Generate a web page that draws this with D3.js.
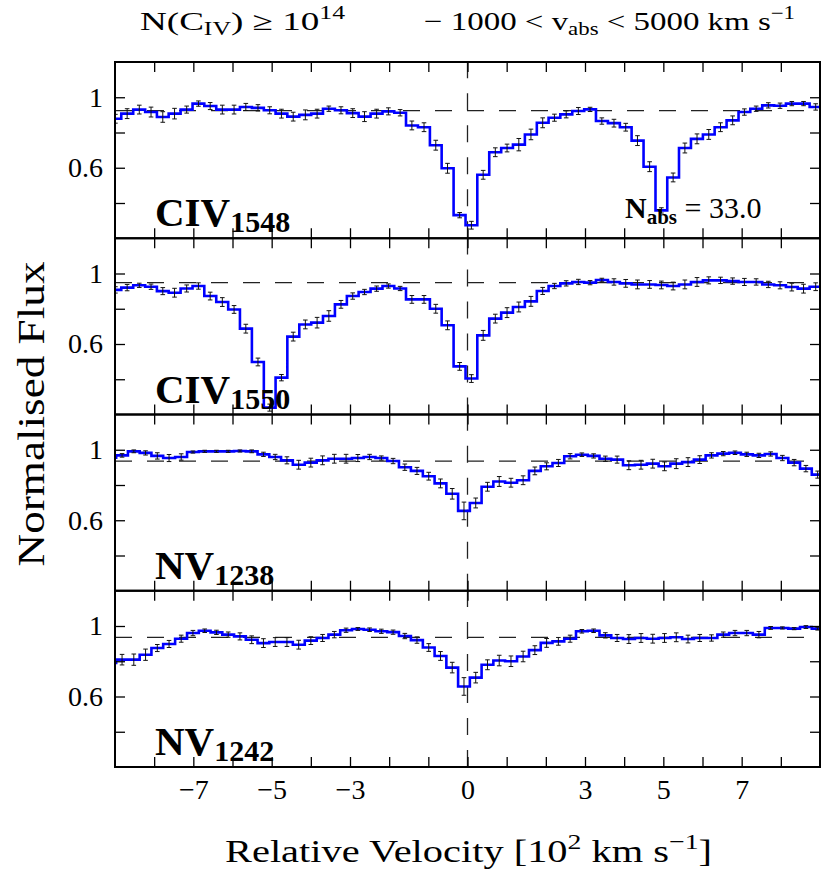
<!DOCTYPE html>
<html>
<head>
<meta charset="utf-8">
<script src="https://cdn.jsdelivr.net/npm/d3@7"></script>
<style>
  body { margin: 0; background: #fff; }
  text { font-family: "Liberation Serif", "DejaVu Serif", serif; fill: #000; }
</style>
</head>
<body>
<div id="chart"></div>
<script>
// bin centres, 10^2 km/s
var velCIV = [-8.99,-8.69,-8.38,-8.08,-7.78,-7.48,-7.17,-6.87,-6.57,-6.26,
  -5.96,-5.66,-5.35,-5.05,-4.75,-4.45,-4.14,-3.84,-3.54,-3.23,
  -2.93,-2.63,-2.32,-2.02,-1.72,-1.42,-1.11,-0.81,-0.51,-0.20,
  0.10,0.40,0.71,1.01,1.31,1.62,1.92,2.22,2.52,2.83,
  3.13,3.43,3.74,4.04,4.34,4.65,4.95,5.25,5.55,5.86,
  6.16,6.46,6.77,7.07,7.37,7.68,7.98,8.28,8.58,8.89];
var velNV = [-9.12,-8.82,-8.52,-8.22,-7.92,-7.62,-7.31,-7.01,-6.71,-6.41,
  -6.11,-5.81,-5.51,-5.21,-4.91,-4.61,-4.31,-4.00,-3.70,-3.40,
  -3.10,-2.80,-2.50,-2.20,-1.90,-1.60,-1.29,-0.99,-0.69,-0.39,
  -0.09,
  0.21,0.51,0.81,1.11,1.42,1.72,2.02,2.32,2.62,2.92,
  3.22,3.52,3.82,4.12,4.43,4.73,5.03,5.33,5.63,5.93,
  6.23,6.53,6.83,7.13,7.44,7.74,8.04,8.34,8.64,8.94];

var fluxCIV1548 = [0.878,0.907,0.930,0.916,0.888, 0.907,0.930,0.964,0.950,0.930,
  0.930,0.945,0.940,0.926,0.907, 0.890,0.900,0.907,0.935,0.926,
  0.910,0.890,0.907,0.920,0.912, 0.840,0.830,0.728,0.597,0.331,
  0.274,0.560,0.688,0.712,0.731, 0.789,0.855,0.884,0.903,0.922,
  0.931,0.865,0.853,0.830,0.754, 0.606,0.358,0.545,0.712,0.764,
  0.789,0.830,0.869,0.916,0.935, 0.954,0.952,0.964,0.964,0.945];
var errCIV1548 = [0.025,0.028,0.025,0.028,0.030, 0.030,0.020,0.015,0.020,0.025,
  0.025,0.020,0.018,0.020,0.025, 0.025,0.028,0.025,0.015,0.020,
  0.025,0.028,0.025,0.020,0.018, 0.025,0.025,0.028,0.028,0.015,
  0.022,0.025,0.025,0.022,0.035, 0.030,0.028,0.020,0.020,0.020,
  0.012,0.018,0.022,0.022,0.028, 0.028,0.015,0.025,0.028,0.028,
  0.028,0.025,0.025,0.018,0.015, 0.015,0.015,0.012,0.012,0.018];

var fluxCIV1550 = [0.907,0.920,0.933,0.925,0.900, 0.891,0.915,0.929,0.872,0.838,
  0.796,0.687,0.498,0.239,0.409, 0.642,0.711,0.721,0.759,0.825,
  0.872,0.895,0.914,0.929,0.915, 0.853,0.853,0.800,0.706,0.473,
  0.404,0.649,0.744,0.778,0.810, 0.842,0.901,0.929,0.944,0.952,
  0.948,0.963,0.952,0.944,0.938, 0.938,0.935,0.929,0.938,0.952,
  0.961,0.961,0.957,0.952,0.952, 0.938,0.933,0.923,0.914,0.925];
var errCIV1550 = [0.018,0.018,0.012,0.015,0.020, 0.025,0.020,0.018,0.022,0.025,
  0.022,0.025,0.022,0.020,0.018, 0.025,0.025,0.030,0.030,0.022,
  0.018,0.015,0.015,0.012,0.012, 0.022,0.022,0.025,0.025,0.022,
  0.022,0.028,0.025,0.028,0.028, 0.028,0.020,0.015,0.015,0.015,
  0.012,0.010,0.018,0.022,0.025, 0.022,0.022,0.022,0.025,0.025,
  0.020,0.018,0.018,0.020,0.018, 0.018,0.020,0.022,0.025,0.022];

var fluxNV1238 = [0.955,0.968,0.991,0.982,0.965, 0.953,0.959,0.987,0.991,0.991,
  0.991,0.993,0.991,0.974,0.959, 0.940,0.915,0.927,0.940,0.949,
  0.949,0.953,0.959,0.953,0.936, 0.901,0.880,0.850,0.809,0.750,
  0.653,
  0.698,0.790,0.820,0.813,0.827, 0.880,0.906,0.925,0.963,0.972,
  0.965,0.949,0.944,0.912,0.915, 0.921,0.906,0.921,0.930,0.944,
  0.968,0.978,0.983,0.974,0.968, 0.976,0.953,0.927,0.893,0.859];
var errNV1238 = [0.010,0.010,0.008,0.012,0.018, 0.020,0.018,0.006,0.006,0.006,
  0.006,0.006,0.008,0.012,0.015, 0.020,0.025,0.025,0.025,0.025,
  0.025,0.020,0.015,0.012,0.015, 0.018,0.020,0.022,0.025,0.030,
  0.050,
  0.028,0.025,0.028,0.025,0.025, 0.022,0.020,0.020,0.015,0.010,
  0.012,0.015,0.020,0.025,0.025, 0.025,0.025,0.028,0.025,0.022,
  0.015,0.012,0.010,0.012,0.012, 0.012,0.015,0.018,0.018,0.020];

var fluxNV1242 = [0.790,0.809,0.809,0.837,0.875, 0.898,0.928,0.960,0.973,0.964,
  0.951,0.941,0.922,0.903,0.909, 0.909,0.894,0.917,0.932,0.951,
  0.976,0.983,0.979,0.970,0.965, 0.943,0.920,0.878,0.830,0.764,
  0.657,
  0.707,0.780,0.804,0.800,0.827, 0.863,0.904,0.913,0.928,0.970,
  0.973,0.947,0.932,0.926,0.932, 0.928,0.932,0.936,0.926,0.932,
  0.932,0.951,0.960,0.960,0.951, 0.989,0.989,0.985,0.994,0.985];
var errNV1242 = [0.025,0.030,0.032,0.032,0.020, 0.020,0.020,0.015,0.010,0.012,
  0.015,0.020,0.022,0.025,0.025, 0.025,0.025,0.022,0.020,0.018,
  0.012,0.008,0.010,0.012,0.012, 0.015,0.018,0.022,0.025,0.030,
  0.050,
  0.030,0.028,0.030,0.030,0.030, 0.025,0.025,0.022,0.020,0.010,
  0.010,0.015,0.020,0.025,0.025, 0.025,0.025,0.025,0.022,0.020,
  0.018,0.015,0.015,0.015,0.018, 0.008,0.006,0.006,0.008,0.008];

var continuum = [0.924, 0.948, 0.936, 0.936];
var ionNames = ["CIV", "CIV", "NV", "NV"];
var lineNames = ["1548", "1550", "1238", "1242"];
var nAbs = "33.0";

var xTicks = [-8,-7,-6,-5,-4,-3,-2,-1,0,1,2,3,4,5,6,7,8];
var xTickLabels = [-7,-5,-3,0,3,5,7];
var yTicks = [0.4, 0.6, 0.8, 1.0];
var yTickLabels = [0.6, 1.0];

var panels = [
  {vel: velCIV, flux: fluxCIV1548, err: errCIV1548},
  {vel: velCIV, flux: fluxCIV1550, err: errCIV1550},
  {vel: velNV, flux: fluxNV1238, err: errNV1238},
  {vel: velNV, flux: fluxNV1242, err: errNV1242}
];

var width = 831, height = 883;
var left = 115, top0 = 62, plotW = 705, panelH = 176.25;

var svg = d3.select("#chart").append("svg")
  .attr("width", width)
  .attr("height", height);

var x = d3.scaleLinear().domain([-9, 9]).range([left, left + plotW]);

panels.forEach(function(p, i){
  var top = top0 + i * panelH;
  var y = d3.scaleLinear().domain([0.2, 1.2]).range([top + panelH, top]);
  var g = svg.append("g");

  svg.append("clipPath").attr("id", "clip" + i)
    .append("rect")
      .attr("x", left).attr("y", top)
      .attr("width", plotW).attr("height", panelH);

  var inner = g.append("g").attr("clip-path", "url(#clip" + i + ")");

  // continuum and zero velocity
  inner.append("line")
    .attr("x1", x(-9)).attr("x2", x(9))
    .attr("y1", y(continuum[i])).attr("y2", y(continuum[i]))
    .style("stroke", "#222").style("stroke-width", 1.3)
    .style("stroke-dasharray", "17,15");
  inner.append("line")
    .attr("x1", x(0)).attr("x2", x(0))
    .attr("y1", y(0.2)).attr("y2", y(1.2))
    .style("stroke", "#222").style("stroke-width", 1.3)
    .style("stroke-dasharray", "17,15");

  // stepped spectrum
  var pts = p.vel.map(function(v, j){ return [v, p.flux[j]]; });
  var n = p.vel.length;
  var half0 = (p.vel[1] - p.vel[0]) / 2;
  var half1 = (p.vel[n-1] - p.vel[n-2]) / 2;
  pts.unshift([p.vel[0] - half0, p.flux[0]]);
  pts.push([p.vel[n-1] + half1, p.flux[n-1]]);

  var line = d3.line()
    .x(function(d){ return x(d[0]); })
    .y(function(d){ return y(d[1]); })
    .curve(d3.curveStep);

  inner.append("path")
    .attr("d", line(pts))
    .style("fill", "none")
    .style("stroke", "#0000ff")
    .style("stroke-width", 2.6);

  // error bars
  var eb = inner.selectAll(".eb").data(p.vel).enter().append("g");
  eb.append("line")
    .attr("x1", function(v){ return x(v); })
    .attr("x2", function(v){ return x(v); })
    .attr("y1", function(v, j){ return y(p.flux[j] - p.err[j]); })
    .attr("y2", function(v, j){ return y(p.flux[j] + p.err[j]); })
    .style("stroke", "#111").style("stroke-width", 1);
  [-1, 1].forEach(function(s){
    eb.append("line")
      .attr("x1", function(v){ return x(v) - 2.3; })
      .attr("x2", function(v){ return x(v) + 2.3; })
      .attr("y1", function(v, j){ return y(p.flux[j] + s * p.err[j]); })
      .attr("y2", function(v, j){ return y(p.flux[j] + s * p.err[j]); })
      .style("stroke", "#111").style("stroke-width", 1);
  });

  // axes, ticks inward
  var isLast = i === panels.length - 1;
  var fmt = d3.format("d");
  g.append("g").attr("transform", "translate(0," + (top + panelH) + ")")
    .call(d3.axisBottom(x).tickValues(xTicks).tickSize(-10).tickPadding(12)
      .tickFormat(function(d){ return (isLast && xTickLabels.indexOf(d) >= 0) ? fmt(d) : ""; }));
  g.append("g").attr("transform", "translate(0," + top + ")")
    .call(d3.axisTop(x).tickValues(xTicks).tickSize(-10).tickFormat(""));
  g.append("g").attr("transform", "translate(" + left + ",0)")
    .call(d3.axisLeft(y).tickValues(yTicks).tickSize(-10).tickPadding(12)
      .tickFormat(function(d){ return yTickLabels.indexOf(d) >= 0 ? (d === 1 ? "1" : d3.format(".1f")(d)) : ""; }));
  g.append("g").attr("transform", "translate(" + (left + plotW) + ",0)")
    .call(d3.axisRight(y).tickValues(yTicks).tickSize(-10).tickFormat(""));

  g.selectAll(".domain").remove();
  g.selectAll(".tick line").style("stroke", "#000").style("stroke-width", 1.3);
  g.selectAll(".tick text")
    .style("font-family", "'Liberation Serif', serif")
    .style("font-size", "28px");

  g.append("rect")
    .attr("x", left).attr("y", top)
    .attr("width", plotW).attr("height", panelH)
    .style("fill", "none").style("stroke", "#000").style("stroke-width", 2);

  // species label
  var lab = g.append("text")
    .attr("x", 155).attr("y", top + panelH - 12)
    .style("font-weight", "bold").style("font-size", "41px");
  lab.append("tspan").text(ionNames[i]);
  lab.append("tspan").attr("dy", 6).style("font-size", "30px").text(lineNames[i]);

  if (i === 0) {
    var na = g.append("text")
      .attr("x", 625).attr("y", top + panelH - 20)
      .style("font-size", "30px");
    na.append("tspan").style("font-weight", "bold").text("N");
    na.append("tspan").attr("dy", 6).style("font-weight", "bold").style("font-size", "21px").text("abs");
    na.append("tspan").attr("dy", -6).text(" = " + nAbs);
  }
});

// title
var t1 = svg.append("text").attr("x", 140).attr("y", 30)
  .attr("textLength", 205).attr("lengthAdjust", "spacingAndGlyphs")
  .style("font-size", "26px");
t1.append("tspan").text("N(C");
t1.append("tspan").attr("dy", 5).style("font-size", "18px").text("IV");
t1.append("tspan").attr("dy", -5).text(")  \u2265  10");
t1.append("tspan").attr("dy", -11).style("font-size", "18px").text("14");

var t2 = svg.append("text").attr("x", 424).attr("y", 30)
  .attr("textLength", 371).attr("lengthAdjust", "spacingAndGlyphs")
  .style("font-size", "26px");
t2.append("tspan").text("\u2212 1000  <  v");
t2.append("tspan").attr("dy", 5).style("font-size", "18px").text("abs");
t2.append("tspan").attr("dy", -5).text("  <  5000 km s");
t2.append("tspan").attr("dy", -11).style("font-size", "18px").text("\u22121");

// axis titles
var xl = svg.append("text")
  .attr("x", 225).attr("y", 862)
  .attr("textLength", 487).attr("lengthAdjust", "spacingAndGlyphs")
  .style("font-size", "32px");
xl.append("tspan").text("Relative Velocity [10");
xl.append("tspan").attr("dy", -13).style("font-size", "22px").text("2");
xl.append("tspan").attr("dy", 13).text(" km s");
xl.append("tspan").attr("dy", -13).style("font-size", "22px").text("\u22121");
xl.append("tspan").attr("dy", 13).text("]");

svg.append("text")
  .attr("transform", "translate(44,414) rotate(-90)")
  .attr("text-anchor", "middle")
  .attr("textLength", 305).attr("lengthAdjust", "spacingAndGlyphs")
  .style("font-size", "38px")
  .text("Normalised Flux");
</script>
</body>
</html>
